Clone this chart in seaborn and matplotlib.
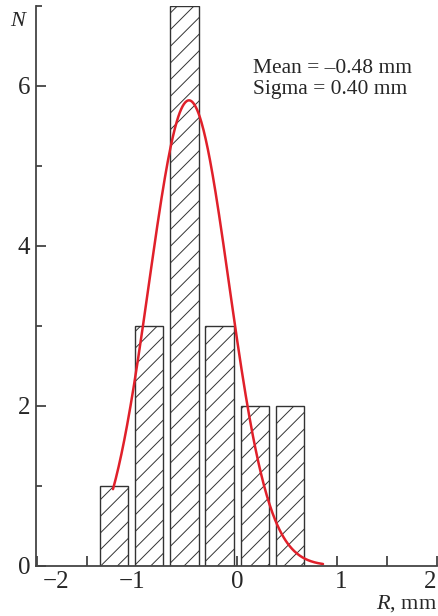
import numpy as np
import pandas as pd
import matplotlib
matplotlib.use("Agg")
import matplotlib.pyplot as plt
import matplotlib.transforms as mtrans
import seaborn as sns
from matplotlib.ticker import FixedLocator

# ---- data ----
bin_centers = [-1.23, -0.878, -0.526, -0.174, 0.178, 0.53]
counts = [1, 3, 7, 3, 2, 2]
bin_width = 0.352
fit_mean = -0.48
fit_sigma = 0.40
fit_peak = 5.82
fit_range = (-1.24, 0.86)
x_ticks = [-2, -1, 0, 1, 2]
x_ticklabels = ["\u22122", "\u22121", "0", "1", "2"]
y_ticks = [0, 2, 4, 6]
y_ticklabels = ["0", "2", "4", "6"]

sns.set_theme(style="white")
plt.rcParams["font.family"] = ["Liberation Serif", "DejaVu Serif"]
plt.rcParams["mathtext.fontset"] = "custom"
plt.rcParams["mathtext.rm"] = "Liberation Serif"
plt.rcParams["mathtext.it"] = "Liberation Serif:italic"
plt.rcParams["hatch.linewidth"] = 0.7
plt.rcParams["hatch.color"] = "#333333"

fig = plt.figure(figsize=(4.38, 6.16), dpi=100)
ax = fig.add_axes([36 / 438, (616 - 565.7) / 616, 401 / 438, 559.7 / 616])

df = pd.DataFrame({"R": bin_centers, "N": counts})
lo = bin_centers[0] - bin_width / 2
sns.histplot(data=df, x="R", weights="N", binwidth=bin_width,
             binrange=(lo, lo + bin_width * len(counts)), shrink=0.81,
             color="white", edgecolor="#333333", linewidth=1.0, alpha=1,
             ax=ax)
for p in ax.patches:
    p.set_hatch("//")
    p.set_facecolor("white")
    p.set_edgecolor("#333333")

xs = np.linspace(fit_range[0], fit_range[1], 300)
ys = fit_peak * np.exp(-0.5 * ((xs - fit_mean) / fit_sigma) ** 2)
sns.lineplot(x=xs, y=ys, color="#e0202a", linewidth=1.8, ax=ax)

ax.set_xlim(-2.01, 2.0)
ax.set_ylim(0, 7.0)

for s in ["top", "right"]:
    ax.spines[s].set_visible(False)
for s in ["left", "bottom"]:
    ax.spines[s].set_color("#444444")
    ax.spines[s].set_linewidth(1.3)

ax.xaxis.set_major_locator(FixedLocator(x_ticks))
ax.xaxis.set_minor_locator(FixedLocator([-1.5, -0.5, 0.5, 1.5]))
ax.set_xticklabels(x_ticklabels)
ax.yaxis.set_major_locator(FixedLocator(y_ticks))
ax.yaxis.set_minor_locator(FixedLocator([1, 3, 5, 7]))
ax.set_yticklabels(y_ticklabels)
ax.tick_params(axis="both", which="both", direction="in", color="#444444",
               width=1.3, labelsize=18, bottom=True, left=True)
ax.tick_params(axis="x", which="both", length=7.2, pad=4)
ax.tick_params(axis="y", which="major", length=7.2, pad=4)
ax.tick_params(axis="y", which="minor", length=4.3)

# nudge edge tick labels inward like the reference
shifts_px = [19, -5, 0, 4, -7]
for lab, dx in zip(ax.get_xticklabels(), shifts_px):
    lab.set_transform(lab.get_transform() +
                      mtrans.ScaledTranslation(dx / 100, 0, fig.dpi_scale_trans))

ax.set_xlabel("")
ax.set_ylabel("")
fig.text(18 / 438, 1 - 22 / 616, "N", fontsize=16, style="italic",
         ha="center", va="center")
fig.text(437 / 438, 1 - 604 / 616, r"$\mathit{R}$, mm", fontsize=16,
         ha="right", va="center")
fig.text(253 / 438, 1 - 79 / 616, "Mean = \u20130.48 mm\nSigma = 0.40 mm",
         fontsize=15.5, ha="left", va="center", linespacing=1.2)

fig.savefig("out.png", dpi=100)
